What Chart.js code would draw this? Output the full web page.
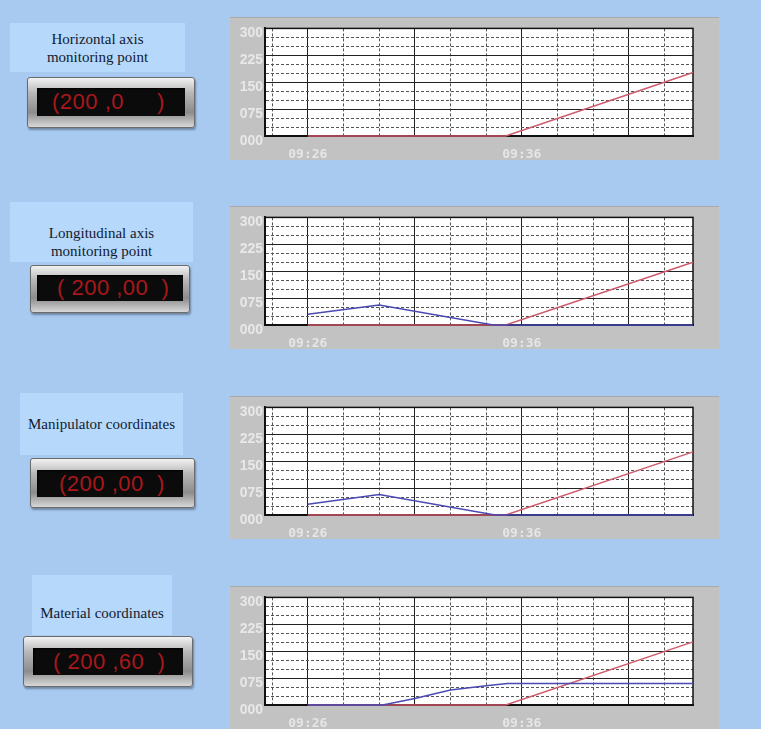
<!DOCTYPE html>
<html>
<head>
<meta charset="utf-8">
<script src="https://cdn.jsdelivr.net/npm/chart.js@4.4.1/dist/chart.umd.min.js"></script>
<style>
  html, body { margin: 0; padding: 0; }
  body { width: 761px; height: 729px; background: #a8caf0; position: relative; overflow: hidden; }
  .lbl {
    position: absolute; background: #b5d8fb; color: #121a30;
    font: 15px "Liberation Serif", "DejaVu Serif", serif; text-align: center;
    display: flex; align-items: center; justify-content: center; line-height: 18px;
    white-space: nowrap;
  }
  .disp {
    position: absolute; box-sizing: border-box;
    background: linear-gradient(#f2f2f2 0%, #b8b8b8 30%, #8c8c8c 70%, #d8d8d8 100%);
    border: 1px solid #6b6b6b; border-radius: 3px;
    box-shadow: 1px 2px 2px rgba(60, 70, 90, 0.5);
  }
  .disp .in {
    position: absolute; background: #0b0b0b; color: #a8181c;
    font: 22px "Liberation Sans", Arial, sans-serif; white-space: pre;
    display: flex; align-items: center; letter-spacing: 0.5px;
    box-shadow: inset 1px 1px 2px #000;
  }
  .panel {
    position: absolute; left: 230px; width: 489px; height: 143px;
    background: #c2c2c2; box-sizing: border-box; border-top: 1px solid #a9a9a9;
  }
  .panel canvas { position: absolute; left: 0; top: 0; }
</style>
</head>
<body>

<div class="lbl" style="left:10px;top:23px;width:175px;height:49px;">Horizontal axis<br>monitoring point</div>
<div class="disp" style="left:27px;top:77px;width:168px;height:51px;">
  <div class="in" style="left:9px;top:10px;width:148px;height:28px;padding-left:15px;box-sizing:border-box;">(200 ,0     )</div>
</div>

<div class="lbl" style="left:10px;top:202px;width:183px;height:60px;padding-top:20px;box-sizing:border-box;">Longitudinal axis<br>monitoring point</div>
<div class="disp" style="left:30px;top:265px;width:160px;height:48px;">
  <div class="in" style="left:6px;top:9px;width:146px;height:26px;padding-left:20px;box-sizing:border-box;">( 200 ,00  )</div>
</div>

<div class="lbl" style="left:20px;top:393px;width:163px;height:62px;overflow:visible;">Manipulator coordinates</div>
<div class="disp" style="left:30px;top:458px;width:165px;height:50px;">
  <div class="in" style="left:6px;top:11px;width:146px;height:27px;padding-left:22px;box-sizing:border-box;">(200 ,00  )</div>
</div>

<div class="lbl" style="left:32px;top:575px;width:140px;height:60px;padding-top:16px;box-sizing:border-box;">Material coordinates</div>
<div class="disp" style="left:23px;top:636px;width:170px;height:51px;">
  <div class="in" style="left:9px;top:11px;width:150px;height:27px;padding-left:20px;box-sizing:border-box;">( 200 ,60  )</div>
</div>

<div class="panel" style="top:17px;"><canvas id="c1" width="489" height="143"></canvas></div>
<div class="panel" style="top:206px;"><canvas id="c2" width="489" height="143"></canvas></div>
<div class="panel" style="top:396px;"><canvas id="c3" width="489" height="143"></canvas></div>
<div class="panel" style="top:586px;"><canvas id="c4" width="489" height="143"></canvas></div>

<script>
/* ===== DATA ===== */
// x in grid units (1 unit = one dotted column), 09:26 at 0, 09:36 at 6
const timeTickPos = [0, 6];
const timeTickLabels = ["09:26", "09:36"];
const xGridTicks = [-1, 0, 1, 2, 3, 4, 5, 6, 7, 8, 9, 10];

const redX = [0, 5.55, 10.8];

const horizRed = [0, 0, 177];

const longRed = [0, 0, 175];
const longBlueX = [0, 2, 5.2, 10.8];
const longBlue = [30, 56, 0, 0];

const manipRed = [0, 0, 176];
const manipBlueX = [0, 2, 5.25, 10.8];
const manipBlue = [30, 57, 0, 0];

const matRed = [0, 0, 176];
const matBlueX = [0, 2.1, 3, 4, 5, 5.6, 10.8];
const matBlue = [0, 0, 18, 42, 54, 60, 60];

const RED = "#cf5a6a";
const BLUE = "#4a4ab2";

/* ===== HELPERS ===== */
const toPts = (xs, ys) => xs.map((x, i) => ({ x, y: ys[i] }));

const plotFrame = {
  id: "plotFrame",
  beforeDraw(chart) {
    const { ctx, chartArea: a } = chart;
    ctx.save();
    ctx.fillStyle = "#ffffff";
    ctx.fillRect(a.left, a.top, a.right - a.left, a.bottom - a.top);
    ctx.restore();
  },
  beforeDatasetsDraw(chart) {
    const { ctx, chartArea: a } = chart;
    ctx.save();
    ctx.strokeStyle = "#111";
    ctx.lineWidth = 1.5;
    ctx.strokeRect(a.left, a.top, a.right - a.left, a.bottom - a.top);
    ctx.restore();
  }
};

function makeChart(id, lines) {
  new Chart(document.getElementById(id), {
    type: "line",
    data: {
      datasets: lines.map(l => ({
        data: toPts(l.xs, l.ys),
        borderColor: l.color,
        borderWidth: 1.5,
        pointRadius: 0,
        tension: 0,
        clip: 3
      }))
    },
    options: {
      responsive: false,
      animation: false,
      events: [],
      layout: { padding: { left: 0, right: 26, top: 7, bottom: 0 } },
      plugins: { legend: { display: false }, tooltip: { enabled: false } },
      scales: {
        x: {
          type: "linear",
          min: -1.2,
          max: 10.8,
          afterBuildTicks: s => { s.ticks = xGridTicks.map(v => ({ value: v })); },
          afterFit: s => { s.height = 25; },
          grid: { color: ctx => ctx.tick && ctx.tick.value % 3 === 0 ? "#222" : "#555", lineWidth: 1, drawTicks: false },
          border: { color: "#111", width: 2, dash: ctx => ctx.tick && ctx.tick.value % 3 === 0 ? [] : [3, 2] },
          ticks: {
            autoSkip: false, maxRotation: 0, minRotation: 0, padding: 11,
            color: "#e6e6e6",
            font: { family: "DejaVu Sans Mono", size: 13, weight: "bold" },
            callback: v => {
              const i = timeTickPos.indexOf(v);
              return i >= 0 ? timeTickLabels[i] : "";
            }
          }
        },
        y: {
          min: 0,
          max: 300,
          afterFit: s => { s.width = 35; },
          grid: { color: ctx => ctx.tick && ctx.tick.value % 75 === 0 ? "#222" : "#555", lineWidth: 1, drawTicks: false },
          border: { color: "#111", width: 2, dash: ctx => ctx.tick && ctx.tick.value % 75 === 0 ? [] : [3, 2] },
          ticks: {
            stepSize: 25, autoSkip: false, padding: 2, labelOffset: 5,
            color: "#e8e8e8",
            font: { family: "Liberation Sans", size: 14, weight: "bold" },
            callback: v => v % 75 === 0 ? String(v).padStart(3, "0") : ""
          }
        }
      }
    },
    plugins: [plotFrame]
  });
}

/* ===== CHARTS ===== */
makeChart("c1", [
  { xs: redX, ys: horizRed, color: RED }
]);
makeChart("c2", [
  { xs: longBlueX, ys: longBlue, color: BLUE },
  { xs: redX, ys: longRed, color: RED }
]);
makeChart("c3", [
  { xs: manipBlueX, ys: manipBlue, color: BLUE },
  { xs: redX, ys: manipRed, color: RED }
]);
makeChart("c4", [
  { xs: matBlueX, ys: matBlue, color: BLUE },
  { xs: redX, ys: matRed, color: RED }
]);
</script>
</body>
</html>
